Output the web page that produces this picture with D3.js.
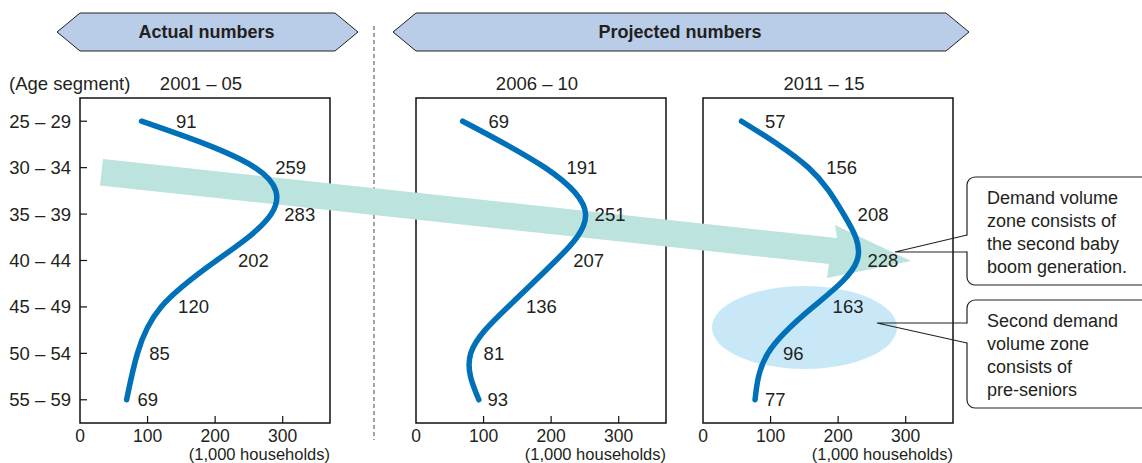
<!DOCTYPE html>
<html>
<head>
<meta charset="utf-8">
<script src="https://cdn.jsdelivr.net/npm/d3@7.9.0/dist/d3.min.js"></script>
<style>
  body { margin: 0; background: #fff; }
  svg { display: block; font-family: "Liberation Sans", Arial, sans-serif; }
  text { fill: #231f20; }
</style>
</head>
<body>
<svg id="chart" width="1142" height="463"></svg>
<script>
// data
const ageSegments = ["25 – 29", "30 – 34", "35 – 39", "40 – 44", "45 – 49", "50 – 54", "55 – 59"];
const periods = ["2001 – 05", "2006 – 10", "2011 – 15"];
const households0105 = [91, 259, 283, 202, 120, 85, 69];
const households0610 = [69, 191, 251, 207, 136, 81, 93];
const households1115 = [57, 156, 208, 228, 163, 96, 77];
const xTicks = [0, 100, 200, 300];
const callout1 = ["Demand volume", "zone consists of", "the second baby", "boom generation."];
const callout2 = ["Second demand", "volume zone", "consists of", "pre-seniors"];

const series = [households0105, households0610, households1115];
const panelLeft = [80, 416, 703];
const panelW = 250, yTop = 98, yBottom = 423;
const blue = "#0071b9";
const fs = 18.5;

const svg = d3.select("#chart");

// header banners
function banner(x0, x1, label) {
  const y0 = 13, y1 = 51, ym = 32, c = 23;
  svg.append("path")
    .attr("d", `M${x0},${ym}L${x0 + c},${y0}L${x1 - c},${y0}L${x1},${ym}L${x1 - c},${y1}L${x0 + c},${y1}Z`)
    .attr("fill", "#b9cce8").attr("stroke", "#222").attr("stroke-width", 1);
  svg.append("text").attr("x", (x0 + x1) / 2 - 1).attr("y", ym + 6)
    .attr("text-anchor", "middle").attr("font-size", 18).attr("font-weight", "bold")
    .text(label);
}
banner(57, 358, "Actual numbers");
banner(393, 969, "Projected numbers");

svg.append("line").attr("x1", 374).attr("x2", 374).attr("y1", 26).attr("y2", 440)
  .attr("stroke", "#666").attr("stroke-width", 1.2).attr("stroke-dasharray", "4,3");

const y = d3.scalePoint().domain(ageSegments).range([yTop, yBottom]).padding(0.5);

svg.append("text").attr("x", 9).attr("y", 90).attr("font-size", fs).text("(Age segment)");

const xs = panelLeft.map(l => d3.scaleLinear().domain([0, 370]).range([l, l + panelW]));

// frames, ticks
xs.forEach((x, i) => {
  const g = svg.append("g");
  g.append("rect").attr("x", x.range()[0]).attr("y", yTop).attr("width", panelW).attr("height", yBottom - yTop)
    .attr("fill", "none").attr("stroke", "#111").attr("stroke-width", 1.5);
  g.append("text").attr("x", x.range()[0] + panelW / 2 - 4).attr("y", 90)
    .attr("text-anchor", "middle").attr("font-size", fs).text(periods[i]);
  g.selectAll(".xt").data(xTicks.filter(t => t > 0)).join("line")
    .attr("x1", d => x(d)).attr("x2", d => x(d)).attr("y1", yBottom).attr("y2", yBottom - 7)
    .attr("stroke", "#111").attr("stroke-width", 1.2);
  g.selectAll(".xl").data(xTicks).join("text")
    .attr("x", d => x(d)).attr("y", 441.5).attr("text-anchor", "middle").attr("font-size", 17.5)
    .text(d => d);
  g.append("text").attr("x", x.range()[1]).attr("y", 460).attr("text-anchor", "end")
    .attr("font-size", 16.5).text("(1,000 households)");
});

const yAxis = svg.append("g");
yAxis.selectAll("line").data(ageSegments).join("line")
  .attr("x1", panelLeft[0]).attr("x2", panelLeft[0] + 7).attr("y1", d => y(d)).attr("y2", d => y(d))
  .attr("stroke", "#111").attr("stroke-width", 1.2);
yAxis.selectAll("text").data(ageSegments).join("text")
  .attr("x", 71).attr("y", d => y(d) + 6.5).attr("text-anchor", "end").attr("font-size", fs)
  .text(d => d);

// big trend arrow
svg.append("path")
  .attr("d", "M103,159L837,238L835,225L911,261L827,278L829,264L100,185.5Z")
  .attr("fill", "#bde3df");

// pre-senior zone
svg.append("ellipse").attr("cx", 804.5).attr("cy", 327.5).attr("rx", 92.5).attr("ry", 41.5)
  .attr("fill", "#c8e8f8");

// curves + value labels
series.forEach((vals, i) => {
  const x = xs[i];
  const line = d3.line()
    .x(d => x(d[1]))
    .y(d => y(d[0]))
    .curve(d3.curveNatural);
  const pts = ageSegments.map((a, j) => [a, vals[j]]);
  const path = svg.append("path").attr("d", line(pts))
    .attr("fill", "none").attr("stroke", blue).attr("stroke-width", 5.5)
    .attr("stroke-linecap", "round");

  // place each label just right of the curve near its row
  const node = path.node(), len = node.getTotalLength();
  const samples = d3.range(0, len, 1).map(l => node.getPointAtLength(l));
  svg.append("g").selectAll("text").data(pts).join("text")
    .attr("x", d => {
      const yy = y(d[0]);
      const near = samples.filter(p => Math.abs(p.y - yy) < 9);
      return d3.max(near, p => p.x) + 9;
    })
    .attr("y", d => y(d[0]) + 6.5).attr("font-size", fs)
    .text(d => d[1]);
});

// callouts
function callout(bx, by, h, tailTop, tailBot, tip, lines) {
  svg.append("rect").attr("x", bx).attr("y", by).attr("width", 220).attr("height", h).attr("rx", 8)
    .attr("fill", "#fff").attr("stroke", "#222").attr("stroke-width", 1.2);
  svg.append("rect").attr("x", bx - 1).attr("y", tailTop + 0.5).attr("width", 3).attr("height", tailBot - tailTop - 1)
    .attr("fill", "#fff");
  svg.append("path").attr("d", `M${bx},${tailTop}L${tip[0]},${tip[1]}L${bx},${tailBot}`)
    .attr("fill", "none").attr("stroke", "#222").attr("stroke-width", 1.1);
  svg.append("g").selectAll("text").data(lines).join("text")
    .attr("x", bx + 20).attr("y", (d, k) => by + 27 + k * 23).attr("font-size", 18)
    .text(d => d);
}
callout(967, 177, 108, 235, 252, [895, 252], callout1);
callout(967, 300, 108, 323, 343, [877, 323], callout2);
</script>
</body>
</html>
